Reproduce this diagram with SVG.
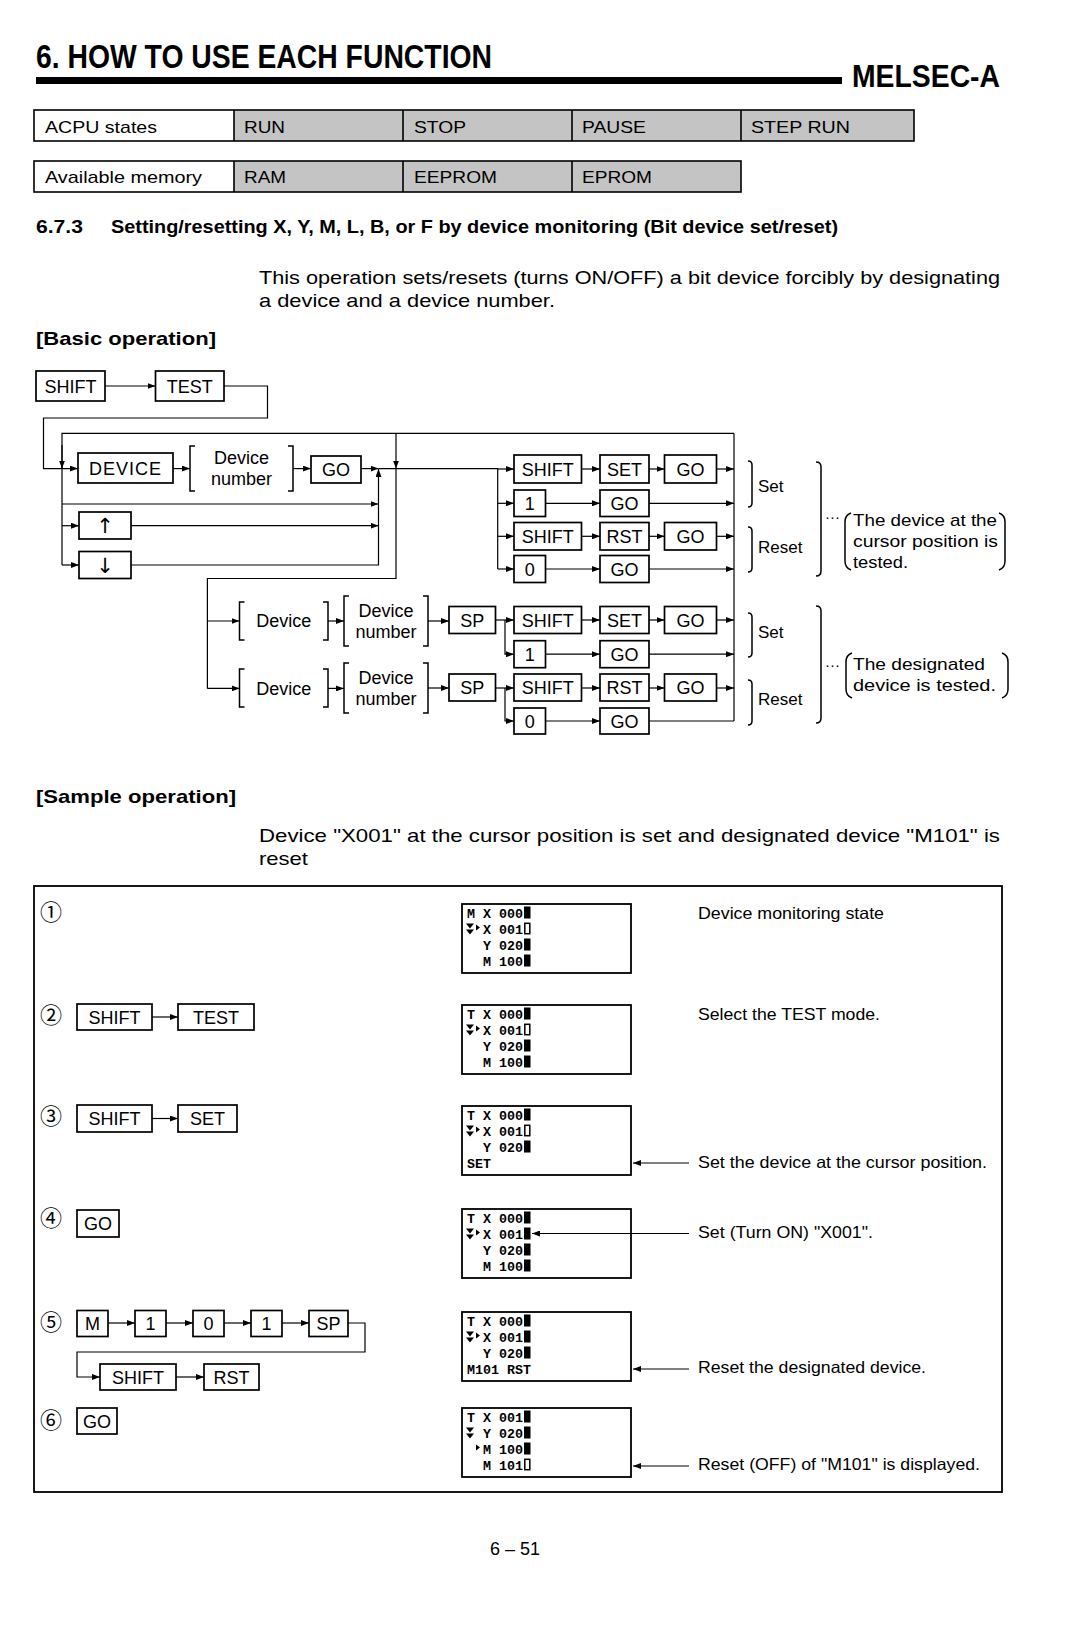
<svg xmlns="http://www.w3.org/2000/svg" width="1072" height="1626" viewBox="0 0 1072 1626">
<defs>
<marker id="ah" viewBox="0 0 8 6" refX="8" refY="3" markerWidth="8" markerHeight="6" markerUnits="userSpaceOnUse" orient="auto"><path d="M0,0 L8,3 L0,6 z" fill="#000"/></marker>
<path id="dbl" d="M-4,-10 H4 L0,-5 Z M-4,-4 H4 L0,1 Z" fill="#000"/>
<path id="tri" d="M0,-9 V-3 L4,-6 Z" fill="#000"/>
<rect id="blk" x="0" y="-11" width="6.5" height="12" fill="#000"/>
<rect id="hol" x="0.8" y="-10.2" width="5" height="10.4" fill="none" stroke="#000" stroke-width="1.5"/>
</defs>
<style>
.bx{fill:#fff;stroke:#000;stroke-width:1.7}
.t{font-family:"Liberation Sans",Arial,sans-serif;fill:#000}
.b{font-weight:bold}
.bt{font-family:"Liberation Sans",Arial,sans-serif;font-size:18px;text-anchor:middle;fill:#000}
.ln{fill:none;stroke:#000;stroke-width:1.2}
.a{fill:none;stroke:#000;stroke-width:1.2;marker-end:url(#ah)}
.br{fill:none;stroke:#000;stroke-width:1.5}
.lcd{fill:#fff;stroke:#000;stroke-width:1.8}
.m{font-family:"Liberation Mono","Courier New",monospace;font-weight:bold;font-size:13.33px;fill:#000}
.sh{fill:#c4c4c4}
.tb{fill:none;stroke:#000;stroke-width:1.6}
.cn{font-family:"Noto Sans CJK JP","DejaVu Sans",sans-serif;font-size:22px;text-anchor:middle;fill:#000}
.s16{font-size:16.5px}
.ar{font-family:"DejaVu Sans",sans-serif;font-size:21px}
</style>
<rect width="1072" height="1626" fill="#fff"/>

<!-- Header -->
<g id="header">
<text class="t b" x="36" y="68.4" font-size="33" textLength="456" lengthAdjust="spacingAndGlyphs">6. HOW TO USE EACH FUNCTION</text>
<rect x="36" y="77" width="806" height="7" fill="#000"/>
<text class="t b" x="852" y="87" font-size="31" textLength="148" lengthAdjust="spacingAndGlyphs">MELSEC-A</text>
</g>

<g id="table-acpu">
<rect class="sh" x="234" y="110" width="680" height="31"/>
<rect class="tb" x="34" y="110" width="880" height="31"/>
<path class="tb" d="M234,110 V141 M403,110 V141 M572,110 V141 M741,110 V141"/>
<text class="t" x="45" y="132.7" font-size="17" textLength="112" lengthAdjust="spacingAndGlyphs">ACPU states</text>
<text class="t" x="244" y="132.7" font-size="17" fill="#222" textLength="41" lengthAdjust="spacingAndGlyphs">RUN</text>
<text class="t" x="414" y="132.7" font-size="17" fill="#222" textLength="52" lengthAdjust="spacingAndGlyphs">STOP</text>
<text class="t" x="582" y="132.7" font-size="17" fill="#222" textLength="64" lengthAdjust="spacingAndGlyphs">PAUSE</text>
<text class="t" x="751" y="132.7" font-size="17" fill="#222" textLength="99" lengthAdjust="spacingAndGlyphs">STEP RUN</text>
</g>
<g id="table-memory">
<rect class="sh" x="234" y="161" width="507" height="31"/>
<rect class="tb" x="34" y="161" width="707" height="31"/>
<path class="tb" d="M234,161 V192 M403,161 V192 M572,161 V192"/>
<text class="t" x="45" y="182.5" font-size="17" textLength="157" lengthAdjust="spacingAndGlyphs">Available memory</text>
<text class="t" x="244" y="182.5" font-size="17" fill="#222" textLength="42" lengthAdjust="spacingAndGlyphs">RAM</text>
<text class="t" x="414" y="182.5" font-size="17" fill="#222" textLength="83" lengthAdjust="spacingAndGlyphs">EEPROM</text>
<text class="t" x="582" y="182.5" font-size="17" fill="#222" textLength="70" lengthAdjust="spacingAndGlyphs">EPROM</text>
</g>

<g id="intro">
<text class="t b" x="36" y="233.3" font-size="19" textLength="47" lengthAdjust="spacingAndGlyphs">6.7.3</text>
<text class="t b" x="111" y="233.3" font-size="19" textLength="727" lengthAdjust="spacingAndGlyphs">Setting/resetting X, Y, M, L, B, or F by device monitoring (Bit device set/reset)</text>
<text class="t" x="259" y="284" font-size="18.5" textLength="741" lengthAdjust="spacingAndGlyphs">This operation sets/resets (turns ON/OFF) a bit device forcibly by designating</text>
<text class="t" x="259" y="307" font-size="18.5" textLength="296" lengthAdjust="spacingAndGlyphs">a device and a device number.</text>
<text class="t b" x="36" y="345" font-size="19" textLength="180" lengthAdjust="spacingAndGlyphs">[Basic operation]</text>
</g>

<!-- Basic operation nodes -->
<g id="n-shift0"><rect class="bx" x="36" y="371" width="69" height="30"/><text class="bt" x="70.5" y="392.5">SHIFT</text></g>
<g id="n-test0"><rect class="bx" x="155.5" y="371" width="68.5" height="30"/><text class="bt" x="189.75" y="392.5">TEST</text></g>
<g id="n-device"><rect class="bx" x="78" y="453" width="95" height="30"/><text class="bt" x="125.5" y="474.5" letter-spacing="1">DEVICE</text></g>
<g id="n-devnum0"><path class="br" d="M195,446 H190 V491 H195 M288,446 H293 V491 H288"/><text class="bt" x="241.5" y="464" font-size="17">Device</text><text class="bt" x="241.5" y="485" font-size="17">number</text></g>
<g id="n-go0"><rect class="bx" x="311" y="456" width="50" height="27"/><text class="bt" x="336" y="476">GO</text></g>
<g id="n-up"><rect class="bx" x="79" y="512" width="52" height="27"/><text class="bt ar" x="105" y="533">↑</text></g>
<g id="n-down"><rect class="bx" x="79" y="551.5" width="52" height="27"/><text class="bt ar" x="105" y="572.5">↓</text></g>

<g id="n-r1-shift"><rect class="bx" x="514" y="455" width="67.5" height="28"/><text class="bt" x="547.75" y="475.5">SHIFT</text></g>
<g id="n-r1-set"><rect class="bx" x="600" y="455" width="49" height="28"/><text class="bt" x="624.5" y="475.5">SET</text></g>
<g id="n-r1-go"><rect class="bx" x="664.5" y="455" width="52" height="28"/><text class="bt" x="690.5" y="475.5">GO</text></g>
<g id="n-r2-1"><rect class="bx" x="514" y="490" width="31.5" height="26.5"/><text class="bt" x="529.75" y="509.75">1</text></g>
<g id="n-r2-go"><rect class="bx" x="600" y="490" width="49" height="26.5"/><text class="bt" x="624.5" y="509.75">GO</text></g>
<g id="n-r3-shift"><rect class="bx" x="514" y="522.5" width="67.5" height="27.5"/><text class="bt" x="547.75" y="542.75">SHIFT</text></g>
<g id="n-r3-rst"><rect class="bx" x="600" y="522.5" width="49" height="27.5"/><text class="bt" x="624.5" y="542.75">RST</text></g>
<g id="n-r3-go"><rect class="bx" x="664.5" y="522.5" width="52" height="27.5"/><text class="bt" x="690.5" y="542.75">GO</text></g>
<g id="n-r4-0"><rect class="bx" x="514" y="555.5" width="31.5" height="27"/><text class="bt" x="529.75" y="575.5">0</text></g>
<g id="n-r4-go"><rect class="bx" x="600" y="555.5" width="49" height="27"/><text class="bt" x="624.5" y="575.5">GO</text></g>

<g id="n-devA"><path class="br" d="M244.5,602 H239.5 V640 H244.5 M323,602 H328 V640 H323"/><text class="bt" x="283.75" y="627" font-size="17">Device</text></g>
<g id="n-devnumA"><path class="br" d="M349,596 H344 V646 H349 M423,596 H428 V646 H423"/><text class="bt" x="386" y="616.5" font-size="17">Device</text><text class="bt" x="386" y="637.5" font-size="17">number</text></g>
<g id="n-spA"><rect class="bx" x="449" y="606.5" width="46.5" height="27"/><text class="bt" x="472.25" y="626.5">SP</text></g>
<g id="n-shiftA"><rect class="bx" x="514" y="606.5" width="67.5" height="27"/><text class="bt" x="547.75" y="626.5">SHIFT</text></g>
<g id="n-setA"><rect class="bx" x="600" y="606.5" width="49" height="27"/><text class="bt" x="624.5" y="626.5">SET</text></g>
<g id="n-goA"><rect class="bx" x="664.5" y="606.5" width="52" height="27"/><text class="bt" x="690.5" y="626.5">GO</text></g>
<g id="n-oneA"><rect class="bx" x="514" y="640.7" width="31.5" height="27"/><text class="bt" x="529.75" y="660.7">1</text></g>
<g id="n-goA2"><rect class="bx" x="600" y="640.7" width="49" height="27"/><text class="bt" x="624.5" y="660.7">GO</text></g>

<g id="n-devB"><path class="br" d="M244.5,669 H239.5 V707 H244.5 M323,669 H328 V707 H323"/><text class="bt" x="283.75" y="694.5" font-size="17">Device</text></g>
<g id="n-devnumB"><path class="br" d="M349,663 H344 V713 H349 M423,663 H428 V713 H423"/><text class="bt" x="386" y="684" font-size="17">Device</text><text class="bt" x="386" y="705" font-size="17">number</text></g>
<g id="n-spB"><rect class="bx" x="449" y="674" width="46.5" height="27"/><text class="bt" x="472.25" y="694">SP</text></g>
<g id="n-shiftB"><rect class="bx" x="514" y="674" width="67.5" height="27"/><text class="bt" x="547.75" y="694">SHIFT</text></g>
<g id="n-rstB"><rect class="bx" x="600" y="674" width="49" height="27"/><text class="bt" x="624.5" y="694">RST</text></g>
<g id="n-goB"><rect class="bx" x="664.5" y="674" width="52" height="27"/><text class="bt" x="690.5" y="694">GO</text></g>
<g id="n-zeroB"><rect class="bx" x="514" y="708" width="31.5" height="26"/><text class="bt" x="529.75" y="727.5">0</text></g>
<g id="n-goB2"><rect class="bx" x="600" y="708" width="49" height="26"/><text class="bt" x="624.5" y="727.5">GO</text></g>

<!-- annotations -->
<g id="annot-upper">
<path class="br" d="M748,461 Q752,461 752,465 V503 Q752,507 748,507"/>
<text class="t" x="758" y="492" font-size="17">Set</text>
<path class="br" d="M748,527 Q752,527 752,531 V568 Q752,572 748,572"/>
<text class="t" x="758" y="552.6" font-size="17">Reset</text>
<path class="br" d="M816,462 Q821,462 821,467 V571 Q821,576 816,576"/>
<text class="t" x="825" y="522" font-size="15">···</text>
<path class="br" d="M851,513 Q845,515 845,522 V561 Q845,568 851,570"/>
<path class="br" d="M999,513 Q1005,515 1005,522 V561 Q1005,568 999,570"/>
<text class="t" x="853" y="526" font-size="17" textLength="144" lengthAdjust="spacingAndGlyphs">The device at the</text>
<text class="t" x="853" y="547" font-size="17" textLength="145" lengthAdjust="spacingAndGlyphs">cursor position is</text>
<text class="t" x="853" y="568" font-size="17" textLength="55" lengthAdjust="spacingAndGlyphs">tested.</text>
</g>
<g id="annot-lower">
<path class="br" d="M748,613 Q752,613 752,617 V653 Q752,657 748,657"/>
<text class="t" x="758" y="638" font-size="17">Set</text>
<path class="br" d="M748,680 Q752,680 752,684 V721 Q752,725 748,725"/>
<text class="t" x="758" y="705" font-size="17">Reset</text>
<path class="br" d="M816,606 Q821,606 821,611 V718 Q821,723 816,723"/>
<text class="t" x="825" y="670" font-size="15">···</text>
<path class="br" d="M852,653 Q846,655 846,662 V689 Q846,696 852,698"/>
<path class="br" d="M1002,653 Q1008,655 1008,662 V689 Q1008,696 1002,698"/>
<text class="t" x="853" y="670" font-size="17" textLength="132" lengthAdjust="spacingAndGlyphs">The designated</text>
<text class="t" x="853" y="691" font-size="17" textLength="143" lengthAdjust="spacingAndGlyphs">device is tested.</text>
</g>

<!-- Sample operation -->
<g id="sample-intro">
<text class="t b" x="36" y="803" font-size="19" textLength="200" lengthAdjust="spacingAndGlyphs">[Sample operation]</text>
<text class="t" x="259" y="842" font-size="18.5" textLength="741" lengthAdjust="spacingAndGlyphs">Device "X001" at the cursor position is set and designated device "M101" is</text>
<text class="t" x="259" y="865" font-size="18.5" textLength="49" lengthAdjust="spacingAndGlyphs">reset</text>
</g>
<rect id="sample-frame" x="34" y="886" width="968" height="606" fill="none" stroke="#000" stroke-width="1.8"/>

<g id="step-numbers">
<text class="cn" x="51" y="920">①</text>
<text class="cn" x="51" y="1023">②</text>
<text class="cn" x="51" y="1124">③</text>
<text class="cn" x="51" y="1226">④</text>
<text class="cn" x="51" y="1330">⑤</text>
<text class="cn" x="51" y="1428">⑥</text>
</g>

<g id="s2-shift"><rect class="bx" x="77" y="1004" width="75" height="26"/><text class="bt" x="114.5" y="1023.5">SHIFT</text></g>
<g id="s2-test"><rect class="bx" x="178" y="1004" width="76" height="26"/><text class="bt" x="216" y="1023.5">TEST</text></g>
<g id="s3-shift"><rect class="bx" x="77" y="1105" width="75" height="27"/><text class="bt" x="114.5" y="1125">SHIFT</text></g>
<g id="s3-set"><rect class="bx" x="178" y="1105" width="59" height="27"/><text class="bt" x="207.5" y="1125">SET</text></g>
<g id="s4-go"><rect class="bx" x="77" y="1210" width="42" height="27"/><text class="bt" x="98" y="1230">GO</text></g>
<g id="s5-m"><rect class="bx" x="77" y="1310.5" width="31" height="26"/><text class="bt" x="92.5" y="1330">M</text></g>
<g id="s5-1a"><rect class="bx" x="135" y="1310.5" width="31" height="26"/><text class="bt" x="150.5" y="1330">1</text></g>
<g id="s5-0"><rect class="bx" x="193" y="1310.5" width="31" height="26"/><text class="bt" x="208.5" y="1330">0</text></g>
<g id="s5-1b"><rect class="bx" x="251" y="1310.5" width="31" height="26"/><text class="bt" x="266.5" y="1330">1</text></g>
<g id="s5-sp"><rect class="bx" x="309" y="1310.5" width="39" height="26"/><text class="bt" x="328.5" y="1330">SP</text></g>
<g id="s5-shift"><rect class="bx" x="100" y="1364" width="76" height="26"/><text class="bt" x="138" y="1383.5">SHIFT</text></g>
<g id="s5-rst"><rect class="bx" x="204" y="1364" width="55" height="26"/><text class="bt" x="231.5" y="1383.5">RST</text></g>
<g id="s6-go"><rect class="bx" x="77" y="1408" width="40" height="26"/><text class="bt" x="97" y="1427.5">GO</text></g>

<!-- LCDs -->
<g id="lcd1">
<rect class="lcd" x="462" y="904" width="169" height="69"/>
<text class="m" x="467" y="917.5" xml:space="preserve">M X 000</text><use href="#blk" x="524" y="917.5"/>
<use href="#dbl" x="470" y="933.5"/><use href="#tri" x="476" y="933.5"/><text class="m" x="483" y="933.5" xml:space="preserve">X 001</text><use href="#hol" x="524" y="933.5"/>
<text class="m" x="483" y="949.5" xml:space="preserve">Y 020</text><use href="#blk" x="524" y="949.5"/>
<text class="m" x="483" y="965.5" xml:space="preserve">M 100</text><use href="#blk" x="524" y="965.5"/>
</g>
<g id="lcd2">
<rect class="lcd" x="462" y="1005" width="169" height="69"/>
<text class="m" x="467" y="1018.5" xml:space="preserve">T X 000</text><use href="#blk" x="524" y="1018.5"/>
<use href="#dbl" x="470" y="1034.5"/><use href="#tri" x="476" y="1034.5"/><text class="m" x="483" y="1034.5" xml:space="preserve">X 001</text><use href="#hol" x="524" y="1034.5"/>
<text class="m" x="483" y="1050.5" xml:space="preserve">Y 020</text><use href="#blk" x="524" y="1050.5"/>
<text class="m" x="483" y="1066.5" xml:space="preserve">M 100</text><use href="#blk" x="524" y="1066.5"/>
</g>
<g id="lcd3">
<rect class="lcd" x="462" y="1106" width="169" height="69"/>
<text class="m" x="467" y="1119.5" xml:space="preserve">T X 000</text><use href="#blk" x="524" y="1119.5"/>
<use href="#dbl" x="470" y="1135.5"/><use href="#tri" x="476" y="1135.5"/><text class="m" x="483" y="1135.5" xml:space="preserve">X 001</text><use href="#hol" x="524" y="1135.5"/>
<text class="m" x="483" y="1151.5" xml:space="preserve">Y 020</text><use href="#blk" x="524" y="1151.5"/>
<text class="m" x="467" y="1167.5">SET</text>
</g>
<g id="lcd4">
<rect class="lcd" x="462" y="1209" width="169" height="69"/>
<text class="m" x="467" y="1222.5" xml:space="preserve">T X 000</text><use href="#blk" x="524" y="1222.5"/>
<use href="#dbl" x="470" y="1238.5"/><use href="#tri" x="476" y="1238.5"/><text class="m" x="483" y="1238.5" xml:space="preserve">X 001</text><use href="#blk" x="524" y="1238.5"/>
<text class="m" x="483" y="1254.5" xml:space="preserve">Y 020</text><use href="#blk" x="524" y="1254.5"/>
<text class="m" x="483" y="1270.5" xml:space="preserve">M 100</text><use href="#blk" x="524" y="1270.5"/>
</g>
<g id="lcd5">
<rect class="lcd" x="462" y="1312" width="169" height="69"/>
<text class="m" x="467" y="1325.5" xml:space="preserve">T X 000</text><use href="#blk" x="524" y="1325.5"/>
<use href="#dbl" x="470" y="1341.5"/><use href="#tri" x="476" y="1341.5"/><text class="m" x="483" y="1341.5" xml:space="preserve">X 001</text><use href="#blk" x="524" y="1341.5"/>
<text class="m" x="483" y="1357.5" xml:space="preserve">Y 020</text><use href="#blk" x="524" y="1357.5"/>
<text class="m" x="467" y="1373.5" xml:space="preserve">M101 RST</text>
</g>
<g id="lcd6">
<rect class="lcd" x="462" y="1408" width="169" height="69"/>
<text class="m" x="467" y="1421.5" xml:space="preserve">T X 001</text><use href="#blk" x="524" y="1421.5"/>
<use href="#dbl" x="470" y="1437.5"/><text class="m" x="483" y="1437.5" xml:space="preserve">Y 020</text><use href="#blk" x="524" y="1437.5"/>
<use href="#tri" x="476" y="1453.5"/><text class="m" x="483" y="1453.5" xml:space="preserve">M 100</text><use href="#blk" x="524" y="1453.5"/>
<text class="m" x="483" y="1469.5" xml:space="preserve">M 101</text><use href="#hol" x="524" y="1469.5"/>
</g>

<g id="sample-notes">
<text class="t s16" x="698" y="918.6" textLength="186" lengthAdjust="spacingAndGlyphs">Device monitoring state</text>
<text class="t s16" x="698" y="1020" textLength="182" lengthAdjust="spacingAndGlyphs">Select the TEST mode.</text>
<text class="t s16" x="698" y="1167.5" textLength="289" lengthAdjust="spacingAndGlyphs">Set the device at the cursor position.</text>
<text class="t s16" x="698" y="1238" textLength="175" lengthAdjust="spacingAndGlyphs">Set (Turn ON) "X001".</text>
<text class="t s16" x="698" y="1372.7" textLength="228" lengthAdjust="spacingAndGlyphs">Reset the designated device.</text>
<text class="t s16" x="698" y="1470" textLength="282" lengthAdjust="spacingAndGlyphs">Reset (OFF) of "M101" is displayed.</text>
</g>

<!-- Connectors -->
<g id="connectors">
<path class="a" d="M105,386 H155.5"/>
<path class="a" d="M224,386 H267.5 V418 H43.5 V468.6 H78"/>
<path class="ln" d="M734,433.4 H62 V565"/>
<path class="a" d="M62,445 V468.6"/>
<path class="a" d="M62,504 H378.5"/>
<path class="a" d="M62,525.7 H79"/>
<path class="a" d="M131,525.7 H378.5"/>
<path class="a" d="M62,565 H79"/>
<path class="a" d="M131,565 H378.5 V469"/>
<path class="a" d="M173,468.6 H190"/>
<path class="a" d="M293,468.6 H311"/>
<path class="a" d="M361,468.6 H378.5"/>
<path class="ln" d="M378.5,468.6 H497.7 V569"/>
<path class="a" d="M396,433.4 V468.6"/>
<path class="ln" d="M396,468.6 V578.5 H207.4 V688.4"/>
<path class="ln" d="M734,433.4 V721"/>
<path class="a" d="M497.7,469 H514"/>
<path class="a" d="M581.5,469 H600"/>
<path class="a" d="M649,469 H664.5"/>
<path class="a" d="M716.5,469 H734"/>
<path class="a" d="M497.7,503.3 H514"/>
<path class="a" d="M545.5,503.3 H600"/>
<path class="a" d="M649,503.3 H734"/>
<path class="a" d="M497.7,536.3 H514"/>
<path class="a" d="M581.5,536.3 H600"/>
<path class="a" d="M649,536.3 H664.5"/>
<path class="a" d="M716.5,536.3 H734"/>
<path class="a" d="M497.7,569 H514"/>
<path class="a" d="M545.5,569 H600"/>
<path class="a" d="M649,569 H734"/>
<path class="a" d="M207.4,621 H239.5"/>
<path class="a" d="M328,621 H344"/>
<path class="a" d="M428,621 H449"/>
<path class="a" d="M495.5,620 H514"/>
<path class="a" d="M505,620 V654.2 H514"/>
<path class="a" d="M581.5,620 H600"/>
<path class="a" d="M649,620 H664.5"/>
<path class="a" d="M716.5,620 H734"/>
<path class="a" d="M545.5,654.2 H600"/>
<path class="a" d="M649,654.2 H734"/>
<path class="a" d="M207.4,688.4 H239.5"/>
<path class="a" d="M328,688.4 H344"/>
<path class="a" d="M428,688 H449"/>
<path class="a" d="M495.5,688 H514"/>
<path class="a" d="M505,688 V721 H514"/>
<path class="a" d="M581.5,688 H600"/>
<path class="a" d="M649,688 H664.5"/>
<path class="a" d="M716.5,688 H734"/>
<path class="a" d="M545.5,721 H600"/>
<path class="ln" d="M649,721 H734"/>
<path class="a" d="M152,1017 H178"/>
<path class="a" d="M152,1118.5 H178"/>
<path class="a" d="M108,1323 H135"/>
<path class="a" d="M166,1323 H193"/>
<path class="a" d="M224,1323 H251"/>
<path class="a" d="M282,1323 H309"/>
<path class="a" d="M348,1323 H365 V1352 H77 V1377 H100"/>
<path class="a" d="M176,1377 H204"/>
<path class="a" d="M689,1163 H633"/>
<path class="a" d="M689,1233.5 H532"/>
<path class="a" d="M689,1369 H633"/>
<path class="a" d="M689,1466 H633"/>
</g>

<text id="page-number" class="t" x="515" y="1555" font-size="18" text-anchor="middle">6 – 51</text>
</svg>
